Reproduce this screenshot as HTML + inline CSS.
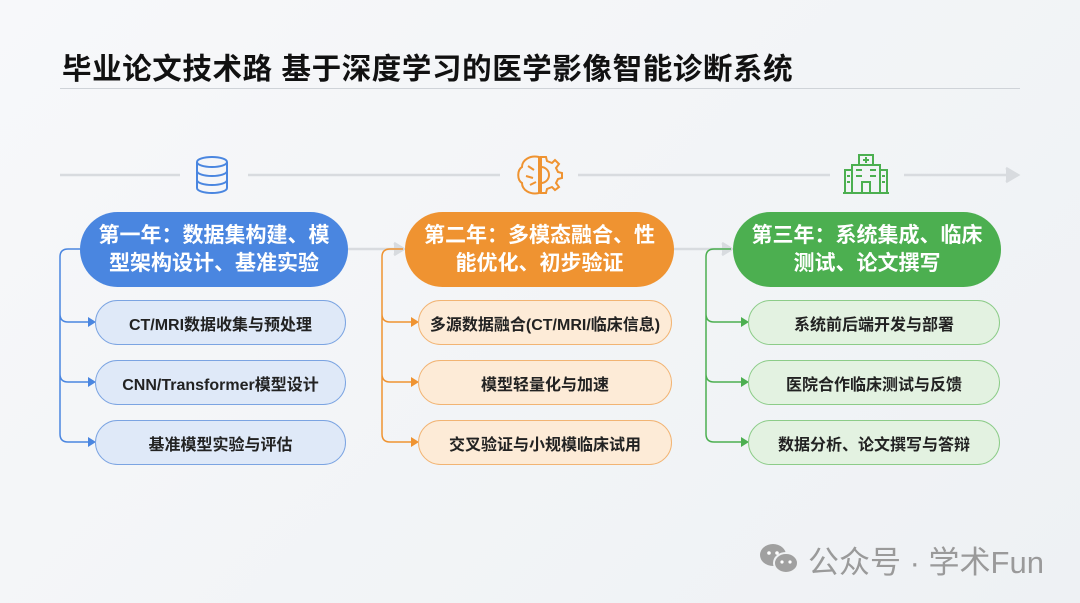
<!DOCTYPE html>
<html><head><meta charset="utf-8"><style>
body{margin:0;width:1080px;height:603px;overflow:hidden;background:linear-gradient(135deg,#f7f8fa,#eef1f4);font-family:"Liberation Sans","Noto Sans CJK SC",sans-serif;position:relative}
.t{position:absolute;left:62px;top:46px;font-size:29.5px;font-weight:bold;color:#111;letter-spacing:0.6px;white-space:nowrap}
.hl{position:absolute;left:60px;top:88px;width:960px;height:1px;background:#cfd3d8}
.h{position:absolute;top:212px;height:75px;border-radius:38px;color:#fff;font-weight:bold;font-size:21px;line-height:28px;text-align:center;display:flex;align-items:center;justify-content:center;box-sizing:border-box;padding:0 18px}
.s{position:absolute;height:45px;border-radius:23px;box-sizing:border-box;border:1.5px solid;display:flex;align-items:center;justify-content:center;font-size:16px;font-weight:bold;color:#222}
.b{background:#dfe9f8;border-color:#7ba4e2}
.o{background:#fdebd7;border-color:#f2b473}
.g{background:#e3f2e1;border-color:#8ccc88}
.w{position:absolute;left:808px;top:537px;font-size:31px;color:#9a9a9a;white-space:nowrap}
</style></head><body>
<div class="t">毕业论文技术路 基于深度学习的医学影像智能诊断系统</div>
<div class="hl"></div>
<svg width="1080" height="603" style="position:absolute;left:0;top:0">
<g stroke="#d8dbdf" stroke-width="2.5" fill="none">
<line x1="60" y1="175" x2="180" y2="175"/><line x1="248" y1="175" x2="500" y2="175"/>
<line x1="578" y1="175" x2="830" y2="175"/><line x1="904" y1="175" x2="1012" y2="175"/>
<path d="M1006 168 L1018 175 L1006 182" fill="#d8dbdf"/>
<line x1="348" y1="249" x2="398" y2="249"/><path d="M394 243 L404 249 L394 255" fill="#d8dbdf"/>
<line x1="674" y1="249" x2="726" y2="249"/><path d="M722 243 L732 249 L722 255" fill="#d8dbdf"/>
</g>
<g stroke="#4a86e0" stroke-width="2" fill="none">
<ellipse cx="212" cy="162" rx="15" ry="5"/><path d="M197 162 V188 A15 5 0 0 0 227 188 V162"/>
<path d="M197 171 A15 5 0 0 0 227 171 M197 180 A15 5 0 0 0 227 180"/>
</g>
<g stroke="#ef9331" stroke-width="2" fill="none">
<path d="M539 157 C530 155 522 160 522 167 C517 170 517 180 522 183 C522 190 530 195 539 193 Z"/>
<path d="M541 157 L546 157 L547 161 L552 163 L555 160 L559 164 L556 168 L558 172 L562 173 L562 178 L558 179 L556 183 L559 187 L555 190 L552 187 L547 189 L546 193 L541 193 Z"/>
<path d="M541 167 A8 8 0 0 1 541 183"/>
<path d="M528 166 L534 170 M526 176 L533 178 M530 185 L536 182"/>
</g>
<g stroke="#4caf50" stroke-width="2" fill="none">
<rect x="859" y="155" width="14" height="10"/><path d="M866 157 V163 M863 160 H869"/>
<rect x="852" y="165" width="28" height="28"/><rect x="845" y="170" width="7" height="23"/><rect x="880" y="170" width="7" height="23"/>
<rect x="862" y="182" width="8" height="11"/>
<path d="M856 170 H862 M870 170 H876 M856 176 H862 M870 176 H876 M847 176 H850 M882 176 H885 M847 182 H850 M882 182 H885 M843 193 H889"/>
</g>
<g stroke-width="1.5" fill="none">
<path stroke="#4a86e0" d="M80 249 H68 Q60 249 60 257 V434 Q60 442 68 442 H92 M60 314 Q60 322 68 322 H92 M60 374 Q60 382 68 382 H92"/>
<path stroke="#ef9331" d="M403 249 H390 Q382 249 382 257 V434 Q382 442 390 442 H415 M382 314 Q382 322 390 322 H415 M382 374 Q382 382 390 382 H415"/>
<path stroke="#4caf50" d="M731 249 H714 Q706 249 706 257 V434 Q706 442 714 442 H745 M706 314 Q706 322 714 322 H745 M706 374 Q706 382 714 382 H745"/>
</g>
<g>
<path fill="#4a86e0" d="M88 317 L96 322 L88 327Z M88 377 L96 382 L88 387Z M88 437 L96 442 L88 447Z"/>
<path fill="#ef9331" d="M411 317 L419 322 L411 327Z M411 377 L419 382 L411 387Z M411 437 L419 442 L411 447Z"/>
<path fill="#4caf50" d="M741 317 L749 322 L741 327Z M741 377 L749 382 L741 387Z M741 437 L749 442 L741 447Z"/>
</g>
</svg>
<div class="h" style="left:80px;width:268px;background:#4a86e0">第一年：数据集构建、模型架构设计、基准实验</div>
<div class="h" style="left:405px;width:269px;background:#ef9331">第二年：多模态融合、性能优化、初步验证</div>
<div class="h" style="left:733px;width:268px;background:#4caf50">第三年：系统集成、临床测试、论文撰写</div>
<div class="s b" style="left:95px;width:251px;top:300px">CT/MRI数据收集与预处理</div>
<div class="s b" style="left:95px;width:251px;top:360px">CNN/Transformer模型设计</div>
<div class="s b" style="left:95px;width:251px;top:420px">基准模型实验与评估</div>
<div class="s o" style="left:418px;width:254px;top:300px">多源数据融合(CT/MRI/临床信息)</div>
<div class="s o" style="left:418px;width:254px;top:360px">模型轻量化与加速</div>
<div class="s o" style="left:418px;width:254px;top:420px">交叉验证与小规模临床试用</div>
<div class="s g" style="left:748px;width:252px;top:300px">系统前后端开发与部署</div>
<div class="s g" style="left:748px;width:252px;top:360px">医院合作临床测试与反馈</div>
<div class="s g" style="left:748px;width:252px;top:420px">数据分析、论文撰写与答辩</div>
<svg width="44" height="34" style="position:absolute;left:758px;top:542px"><ellipse cx="15" cy="13" rx="13" ry="11" fill="#a0a0a0"/><ellipse cx="28" cy="21" rx="12" ry="10" fill="#a0a0a0" stroke="#f0f2f4" stroke-width="2"/><circle cx="11" cy="11" r="1.8" fill="#fff"/><circle cx="19" cy="11" r="1.8" fill="#fff"/><circle cx="24" cy="20" r="1.6" fill="#fff"/><circle cx="32" cy="20" r="1.6" fill="#fff"/></svg>
<div class="w">公众号 · 学术Fun</div>
</body></html>
